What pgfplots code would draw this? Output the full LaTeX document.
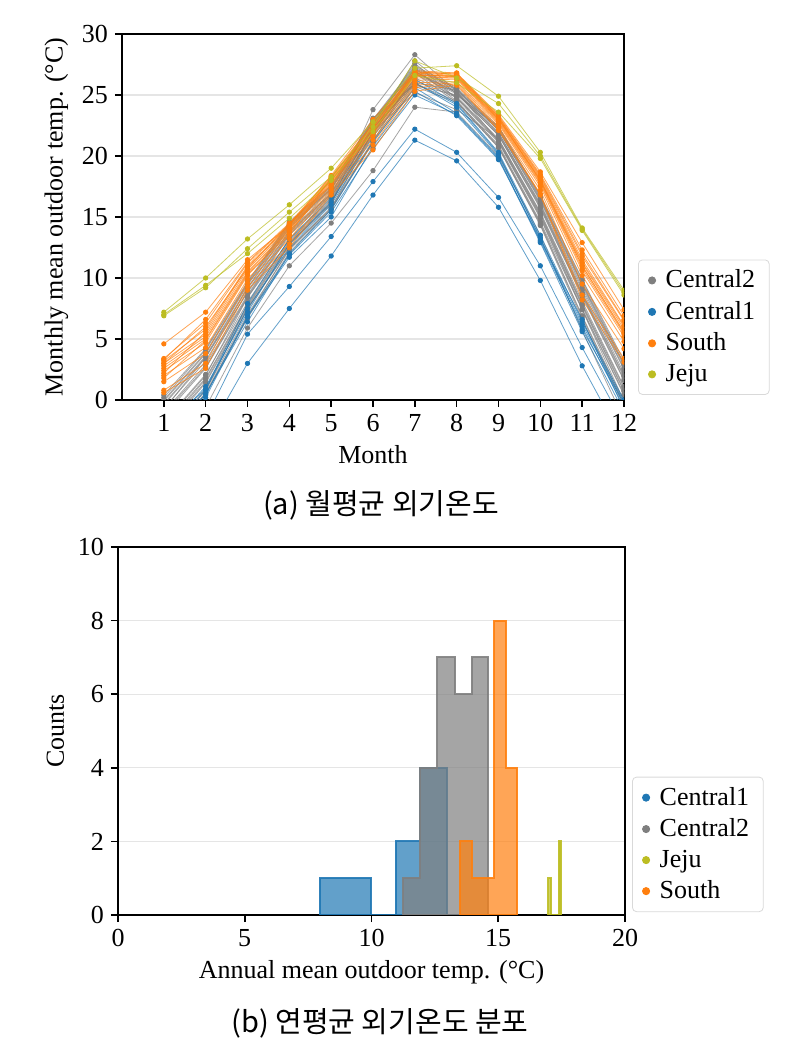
\documentclass[border=0pt]{standalone}
\usepackage{fontspec}
\setmainfont{Liberation Serif}
\newfontfamily\kr{Noto Sans CJK KR}
\usepackage{pgfplots}
\pgfplotsset{compat=1.18}
\definecolor{tblue}{RGB}{31,119,180}
\definecolor{torange}{RGB}{255,127,14}
\definecolor{tgray}{RGB}{127,127,127}
\definecolor{tolive}{RGB}{188,189,34}
\pgfplotsset{
  grp/.style={color=#1, line width=0.4pt, draw opacity=0.7, mark=*, mark size=1.1pt,
    mark options={solid, fill=#1, draw opacity=1}, forget plot},
  cA/.style={grp=tgray},
  cB/.style={grp=tblue},
  cS/.style={grp=torange},
  cJ/.style={grp=tolive},
  common/.style={scale only axis, anchor=south west,
    ymajorgrids, grid style={black!10, line width=0.6pt},
    tick align=outside, tick pos=left, major tick length=3.5pt,
    every tick/.style={black, line width=0.8pt},
    axis line style={line width=0.8pt},
    /pgf/number format/assume math mode=true,
    legend cell align=left,
    legend style={draw=black!15, rounded corners=2pt, fill=white,
      font=\rmfamily\fontsize{13}{15}\selectfont, inner xsep=5pt, inner ysep=3pt,
      row sep=1.2pt, column sep=3pt},
  },
}
\begin{document}
\begin{tikzpicture}[font=\rmfamily\fontsize{13}{15.6}\selectfont]
\useasboundingbox (0pt,0pt) rectangle (398.5pt,525pt);
\begin{axis}[common, at={(61pt,325pt)}, width=251pt, height=183pt,
  xmin=0, xmax=12, ymin=0, ymax=30,
  xtick={1,2,...,12}, ytick={0,5,...,30},
  xlabel={Month}, ylabel={Monthly mean outdoor temp. (°C)},
  clip marker paths=true,
  legend style={at={(1.028,0.014)}, anchor=south west}]
% Central2
\addplot[cA] coordinates {(1,-4.6)(2,-0.6)(3,5.9)(4,11.0)(5,14.5)(6,18.8)(7,24.0)(8,23.6)(9,20.0)(10,13.5)(11,5.7)(12,-1.6)};
\addplot[cA] coordinates {(1,-3.5)(2,0.5)(3,6.7)(4,12.1)(5,15.6)(6,21.1)(7,25.7)(8,24.4)(9,20.7)(10,14.3)(11,6.6)(12,-0.5)};
\addplot[cA] coordinates {(1,-3.4)(2,0.6)(3,6.8)(4,12.4)(5,15.7)(6,21.2)(7,26.8)(8,24.4)(9,20.7)(10,14.4)(11,6.8)(12,-0.4)};
\addplot[cA] coordinates {(1,-3.2)(2,0.8)(3,7.0)(4,12.3)(5,15.7)(6,22.0)(7,27.2)(8,24.5)(9,20.8)(10,14.5)(11,6.9)(12,-0.2)};
\addplot[cA] coordinates {(1,-3.0)(2,0.9)(3,7.5)(4,12.4)(5,15.8)(6,21.3)(7,25.9)(8,24.5)(9,20.9)(10,14.6)(11,7.4)(12,-0.1)};
\addplot[cA] coordinates {(1,-2.6)(2,1.4)(3,7.4)(4,12.7)(5,16.1)(6,22.6)(7,27.6)(8,24.7)(9,21.1)(10,14.9)(11,7.4)(12,0.4)};
\addplot[cA] coordinates {(1,-2.4)(2,1.5)(3,7.6)(4,12.8)(5,16.1)(6,23.8)(7,28.3)(8,25.3)(9,21.2)(10,15.0)(11,7.5)(12,0.5)};
\addplot[cA] coordinates {(1,-2.3)(2,1.7)(3,7.7)(4,12.9)(5,16.2)(6,21.7)(7,26.2)(8,24.8)(9,21.2)(10,15.1)(11,7.7)(12,0.7)};
\addplot[cA] coordinates {(1,-2.1)(2,1.8)(3,7.8)(4,13.0)(5,16.3)(6,21.8)(7,27.0)(8,24.8)(9,21.3)(10,15.2)(11,7.8)(12,0.8)};
\addplot[cA] coordinates {(1,-1.9)(2,2.0)(3,8.4)(4,13.1)(5,16.4)(6,21.9)(7,26.4)(8,24.9)(9,21.4)(10,15.3)(11,7.9)(12,1.0)};
\addplot[cA] coordinates {(1,-1.8)(2,2.1)(3,8.0)(4,13.2)(5,16.5)(6,22.0)(7,25.2)(8,23.8)(9,21.4)(10,15.4)(11,8.1)(12,1.1)};
\addplot[cA] coordinates {(1,-1.3)(2,2.6)(3,8.4)(4,13.5)(5,16.7)(6,22.2)(7,26.7)(8,25.1)(9,21.7)(10,15.7)(11,8.5)(12,1.6)};
\addplot[cA] coordinates {(1,-1.1)(2,2.7)(3,8.5)(4,13.6)(5,16.8)(6,22.3)(7,27.8)(8,25.1)(9,21.7)(10,15.8)(11,8.6)(12,1.7)};
\addplot[cA] coordinates {(1,-1.0)(2,2.9)(3,8.6)(4,13.7)(5,16.9)(6,22.4)(7,26.8)(8,25.2)(9,21.8)(10,15.9)(11,8.7)(12,1.9)};
\addplot[cA] coordinates {(1,-0.8)(2,3.5)(3,8.8)(4,13.8)(5,16.9)(6,23.0)(7,26.9)(8,25.2)(9,21.9)(10,16.0)(11,8.8)(12,2.0)};
\addplot[cA] coordinates {(1,-0.7)(2,3.2)(3,8.9)(4,13.9)(5,17.0)(6,22.5)(7,26.9)(8,25.3)(9,21.9)(10,16.1)(11,9.0)(12,2.2)};
\addplot[cA] coordinates {(1,-0.4)(2,3.5)(3,9.1)(4,14.1)(5,17.2)(6,22.7)(7,27.1)(8,25.4)(9,22.1)(10,16.3)(11,9.2)(12,2.5)};
\addplot[cA] coordinates {(1,-0.3)(2,3.6)(3,9.2)(4,14.2)(5,17.3)(6,22.8)(7,26.0)(8,25.4)(9,22.1)(10,16.4)(11,9.4)(12,2.6)};
\addplot[cA] coordinates {(1,-0.1)(2,3.8)(3,9.4)(4,14.3)(5,17.3)(6,22.8)(7,27.2)(8,25.5)(9,22.2)(10,16.5)(11,9.5)(12,2.8)};
\addplot[cA] coordinates {(1,0.0)(2,3.9)(3,9.5)(4,14.4)(5,17.4)(6,22.9)(7,27.3)(8,25.5)(9,22.3)(10,16.6)(11,9.6)(12,2.9)};
\addplot[cA] coordinates {(1,0.2)(2,4.1)(3,9.6)(4,14.5)(5,17.5)(6,23.0)(7,27.4)(8,25.6)(9,22.4)(10,16.7)(11,9.8)(12,3.0)};
\addplot[cA] coordinates {(1,0.4)(2,4.2)(3,9.7)(4,14.6)(5,17.6)(6,23.1)(7,25.8)(8,25.0)(9,22.4)(10,16.8)(11,9.9)(12,3.2)};
% Central1
\addplot[cB] coordinates {(1,-7.0)(2,-3.0)(3,3.0)(4,7.5)(5,11.8)(6,16.8)(7,21.3)(8,19.6)(9,15.8)(10,9.8)(11,2.8)(12,-3.5)};
\addplot[cB] coordinates {(1,-5.5)(2,-1.5)(3,5.4)(4,9.3)(5,13.4)(6,17.9)(7,22.2)(8,20.3)(9,16.6)(10,11.0)(11,4.3)(12,-2.0)};
\addplot[cB] coordinates {(1,-3.5)(2,0.2)(3,6.8)(4,11.7)(5,15.0)(6,20.8)(7,25.3)(8,23.3)(9,19.7)(10,13.1)(11,6.6)(12,-0.8)};
\addplot[cB] coordinates {(1,-3.2)(2,0.5)(3,6.4)(4,12.0)(5,15.6)(6,21.2)(7,25.6)(8,23.5)(9,19.9)(10,13.0)(11,6.0)(12,-0.6)};
\addplot[cB] coordinates {(1,-3.0)(2,0.8)(3,7.5)(4,12.5)(5,16.0)(6,21.6)(7,26.0)(8,24.0)(9,20.1)(10,13.3)(11,5.8)(12,-0.3)};
\addplot[cB] coordinates {(1,-2.6)(2,1.1)(3,7.2)(4,12.8)(5,16.2)(6,22.0)(7,26.3)(8,24.3)(9,20.3)(10,13.5)(11,6.4)(12,0.0)};
\addplot[cB] coordinates {(1,-2.2)(2,0.9)(3,7.9)(4,13.2)(5,16.6)(6,22.3)(7,26.0)(8,24.2)(9,20.2)(10,13.2)(11,6.2)(12,-0.2)};
\addplot[cB] coordinates {(1,-2.8)(2,0.4)(3,6.9)(4,11.9)(5,15.4)(6,20.6)(7,25.0)(8,23.4)(9,19.8)(10,12.9)(11,5.6)(12,-1.0)};
% South
\addplot[cS] coordinates {(1,0.6)(2,2.6)(3,9.0)(4,12.5)(5,16.8)(6,20.5)(7,25.3)(8,25.8)(9,22.1)(10,16.8)(11,8.2)(12,3.1)};
\addplot[cS] coordinates {(1,0.8)(2,3.0)(3,9.3)(4,12.8)(5,17.0)(6,20.9)(7,25.6)(8,25.9)(9,22.2)(10,16.9)(11,8.6)(12,3.4)};
\addplot[cS] coordinates {(1,1.5)(2,3.8)(3,9.6)(4,13.2)(5,17.2)(6,21.3)(7,25.8)(8,26.0)(9,22.4)(10,17.2)(11,9.5)(12,4.2)};
\addplot[cS] coordinates {(1,2.0)(2,4.3)(3,9.9)(4,13.5)(5,17.4)(6,21.6)(7,26.0)(8,26.1)(9,22.6)(10,17.5)(11,10.2)(12,4.8)};
\addplot[cS] coordinates {(1,2.4)(2,4.7)(3,10.2)(4,13.8)(5,17.6)(6,21.8)(7,26.2)(8,26.3)(9,22.7)(10,17.7)(11,10.6)(12,5.2)};
\addplot[cS] coordinates {(1,2.6)(2,5.0)(3,10.4)(4,13.9)(5,17.7)(6,21.9)(7,26.4)(8,26.4)(9,22.8)(10,17.8)(11,10.8)(12,5.4)};
\addplot[cS] coordinates {(1,2.8)(2,5.2)(3,10.5)(4,14.0)(5,17.8)(6,22.0)(7,26.5)(8,26.4)(9,22.9)(10,17.9)(11,11.0)(12,5.6)};
\addplot[cS] coordinates {(1,3.0)(2,5.4)(3,10.7)(4,14.1)(5,17.9)(6,22.1)(7,26.6)(8,26.5)(9,23.0)(10,18.0)(11,11.2)(12,5.8)};
\addplot[cS] coordinates {(1,2.2)(2,5.6)(3,10.9)(4,14.2)(5,18.0)(6,22.3)(7,26.7)(8,26.5)(9,23.0)(10,18.1)(11,11.3)(12,6.0)};
\addplot[cS] coordinates {(1,3.2)(2,5.8)(3,11.0)(4,14.3)(5,18.1)(6,22.4)(7,26.6)(8,26.6)(9,23.1)(10,18.2)(11,11.5)(12,6.1)};
\addplot[cS] coordinates {(1,1.8)(2,4.9)(3,10.3)(4,13.6)(5,18.2)(6,22.6)(7,26.8)(8,26.6)(9,23.1)(10,18.0)(11,11.0)(12,5.5)};
\addplot[cS] coordinates {(1,3.4)(2,6.3)(3,11.2)(4,14.4)(5,18.2)(6,22.5)(7,26.9)(8,26.7)(9,23.2)(10,18.4)(11,12.0)(12,6.6)};
\addplot[cS] coordinates {(1,3.3)(2,6.6)(3,11.3)(4,14.5)(5,18.3)(6,22.7)(7,26.9)(8,26.7)(9,23.3)(10,18.5)(11,12.3)(12,6.9)};
\addplot[cS] coordinates {(1,4.6)(2,7.2)(3,11.5)(4,14.3)(5,18.4)(6,23.0)(7,27.0)(8,26.8)(9,23.4)(10,18.7)(11,12.9)(12,7.4)};
\addplot[cS] coordinates {(1,3.0)(2,6.0)(3,10.8)(4,14.4)(5,18.0)(6,22.2)(7,26.8)(8,26.8)(9,23.2)(10,18.3)(11,11.8)(12,6.5)};
% Jeju
\addplot[cJ] coordinates {(1,7.2)(2,10.0)(3,13.2)(4,16.0)(5,19.0)(6,22.8)(7,27.2)(8,27.4)(9,24.9)(10,20.3)(11,14.1)(12,9.0)};
\addplot[cJ] coordinates {(1,6.9)(2,9.2)(3,12.4)(4,15.4)(5,18.3)(6,22.4)(7,27.8)(8,26.4)(9,24.3)(10,20.0)(11,14.0)(12,8.8)};
\addplot[cJ] coordinates {(1,7.0)(2,9.4)(3,12.0)(4,14.9)(5,18.0)(6,22.0)(7,26.6)(8,26.0)(9,23.6)(10,19.8)(11,13.9)(12,8.6)};
\addlegendimage{only marks, mark=*, mark size=1.8pt, tgray}
\addlegendentry{Central2}
\addlegendimage{only marks, mark=*, mark size=1.8pt, tblue}
\addlegendentry{Central1}
\addlegendimage{only marks, mark=*, mark size=1.8pt, torange}
\addlegendentry{South}
\addlegendimage{only marks, mark=*, mark size=1.8pt, tolive}
\addlegendentry{Jeju}
\end{axis}
\begin{axis}[common, at={(59pt,67.5pt)}, width=253.5pt, height=184pt,
  xmin=0, xmax=20, ymin=0, ymax=10,
  xtick={0,5,...,20}, ytick={0,2,...,10},
  xlabel={Annual mean outdoor temp. (°C)}, ylabel={Counts},
  legend style={at={(1.014,0.008)}, anchor=south west}]
\addplot[const plot, fill=tblue, fill opacity=0.7, draw=tblue, draw opacity=0.9, line width=1pt, forget plot]
  coordinates {(7.95,1)(8.97,1)(9.98,0)(10.95,2)(11.92,4)(12.98,0)} \closedcycle;
\addplot[const plot, fill=tgray, fill opacity=0.7, draw=tgray, draw opacity=0.9, line width=1pt, forget plot]
  coordinates {(11.25,1)(11.9,4)(12.6,7)(13.3,6)(13.95,7)(14.6,0)} \closedcycle;
\addplot[const plot, fill=tolive, fill opacity=0.7, draw=tolive, draw opacity=0.9, line width=1pt, forget plot]
  coordinates {(16.98,1)(17.08,0)(17.38,2)(17.48,0)} \closedcycle;
\addplot[const plot, fill=torange, fill opacity=0.7, draw=torange, draw opacity=0.9, line width=1pt, forget plot]
  coordinates {(13.49,2)(13.95,1)(14.4,1)(14.83,8)(15.3,4)(15.75,0)} \closedcycle;
\addlegendimage{only marks, mark=*, mark size=1.8pt, tblue}
\addlegendentry{Central1}
\addlegendimage{only marks, mark=*, mark size=1.8pt, tgray}
\addlegendentry{Central2}
\addlegendimage{only marks, mark=*, mark size=1.8pt, tolive}
\addlegendentry{Jeju}
\addlegendimage{only marks, mark=*, mark size=1.8pt, torange}
\addlegendentry{South}
\end{axis}
\node[font=\kr\fontsize{14.5}{17}\selectfont] at (190.5pt,272.5pt) {(a) 월평균 외기온도};
\node[font=\kr\fontsize{14.5}{17}\selectfont] at (190pt,13.5pt) {(b) 연평균 외기온도 분포};
\end{tikzpicture}
\end{document}
